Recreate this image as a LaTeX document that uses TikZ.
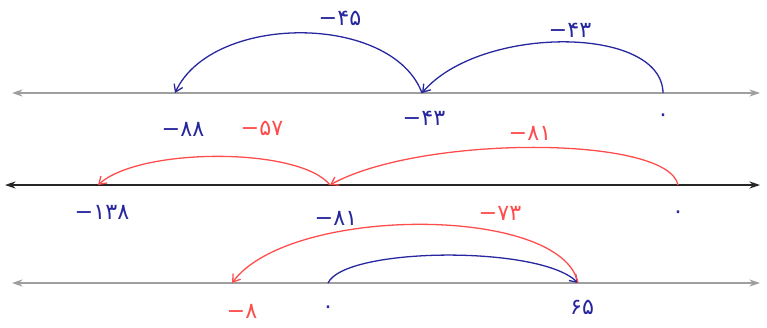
\documentclass[tikz,border=0pt]{standalone}
\usepackage{fontspec}
\newfontfamily\numfont{DejaVu Sans}
\usetikzlibrary{arrows.meta}

\begin{document}
\begin{tikzpicture}[x=0.03cm,y=0.03cm,>={Stealth[length=9pt,width=6pt]},
  axisline/.style={<->,line width=1.3pt,gray!75},
  bluearc/.style={-{Straight Barb[length=6pt,width=8pt]},line width=1.1pt,blue!55!black!85},
  redarc/.style={-{Straight Barb[length=6pt,width=8pt]},line width=1.1pt,red!70!white},
  bluenum/.style={text=blue!55!black!85,font=\numfont\fontsize{19}{21}\selectfont},
  rednum/.style={text=red!70!white,font=\numfont\fontsize{19}{21}\selectfont}]
\useasboundingbox (0,0) rectangle (767,327);
% ---- first line: 0 - 43 - 45 ----
\coordinate (aL) at (12,234);
\coordinate (aR) at (760,234);
\draw[axisline] (aL) -- (aR);
\coordinate (a0) at (663,234);
\coordinate (a43) at (422,234);
\coordinate (a88) at (175,234);
\draw[bluearc] (a0) .. controls (662,302) and (480,302) .. (a43);
\draw[bluearc] (a43) .. controls (392,314) and (212,314) .. (a88);
\node[bluenum] (s43) at (570,297) {−۴۳};
\node[bluenum] (s45) at (340,309) {−۴۵};
\node[bluenum] (n0a) at (663,209) {۰};
\node[bluenum] (n43) at (424,209) {−۴۳};
\node[bluenum] (n88) at (183,198) {−۸۸};
% ---- second line: 0 - 81 - 57 ----
\coordinate (bL) at (5,142);
\coordinate (bR) at (760,142);
\draw[axisline,gray!30!black] (bL) -- (bR);
\coordinate (b0) at (678,142);
\coordinate (b81) at (330,142);
\coordinate (b138) at (98,142);
\draw[redarc] (b0) .. controls (668,192) and (420,192) .. (b81);
\draw[redarc] (b81) .. controls (300,180) and (140,180) .. (b138);
\node[rednum] (s81) at (530,194) {−۸۱};
\node[rednum] (s57) at (262,199) {−۵۷};
\node[bluenum] (n0b) at (678,112) {۰};
\node[bluenum] (n81) at (336,109) {−۸۱};
\node[bluenum] (n138) at (102,115) {−۱۳۸};
% ---- third line: 0 + 65 - 73 ----
\coordinate (cL) at (12,44);
\coordinate (cR) at (760,44);
\draw[axisline] (cL) -- (cR);
\coordinate (c0) at (328,44);
\coordinate (c65) at (578,44);
\coordinate (c8) at (232,44);
\draw[bluearc] (c0) .. controls (345,80) and (540,82) .. (c65);
\draw[redarc] (c65) .. controls (562,122) and (290,122) .. (c8);
\node[rednum] (s73) at (500,114) {−۷۳};
\node[rednum] (n8) at (242,16) {−۸};
\node[bluenum] (n0c) at (328,17) {۰};
\node[bluenum] (n65) at (582,20) {۶۵};
\end{tikzpicture}
\end{document}
